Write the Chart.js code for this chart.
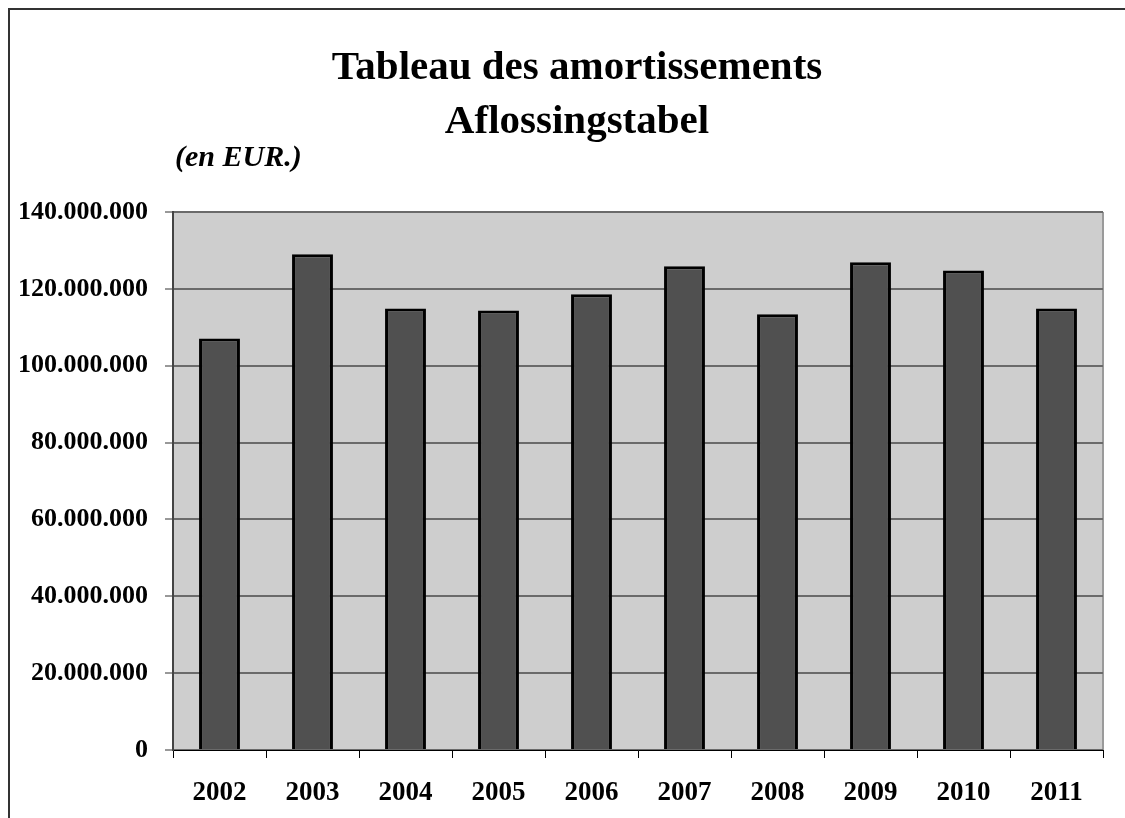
<!DOCTYPE html>
<html>
<head>
<meta charset="utf-8">
<script src="https://cdn.jsdelivr.net/npm/chart.js@4.4.1/dist/chart.umd.min.js"></script>
<style>
  html, body { margin: 0; padding: 0; background: #fff; }
  #wrap { width: 1125px; height: 818px; }
</style>
</head>
<body>
<div id="wrap"><canvas id="amortChart" width="1125" height="818"></canvas></div>
<script>
const years = ['2002', '2003', '2004', '2005', '2006', '2007', '2008', '2009', '2010', '2011'];
const amounts = [107100000, 129000000, 114900000, 114400000, 118600000, 125900000, 113400000, 126900000, 124800000, 114900000];
const yMax = 140000000;
const yStep = 20000000;
const titleLines = ['Tableau des amortissements', 'Aflossingstabel'];
const unitNote = '(en EUR.)';

const serif = "'Liberation Serif', 'Times New Roman', serif";

// frame, plot background, title and the unit note
const decor = {
    id: 'decor',
    beforeDraw(chart) {
        const { ctx, chartArea: a } = chart;
        ctx.save();
        ctx.fillStyle = '#fff';
        ctx.fillRect(0, 0, chart.width, chart.height);
        ctx.strokeStyle = '#333';
        ctx.lineWidth = 2;
        ctx.beginPath();
        ctx.moveTo(9, chart.height);
        ctx.lineTo(9, 9);
        ctx.lineTo(chart.width, 9);
        ctx.stroke();
        ctx.fillStyle = '#cecece';
        ctx.fillRect(a.left, a.top, a.right - a.left, a.bottom - a.top);
        ctx.strokeStyle = '#9a9a9a';
        ctx.lineWidth = 2;
        ctx.beginPath();
        ctx.moveTo(a.right, a.top);
        ctx.lineTo(a.right, a.bottom);
        ctx.stroke();
        ctx.restore();
    },
    afterDraw(chart) {
        const { ctx, chartArea: a } = chart;
        ctx.save();
        ctx.fillStyle = '#000';
        ctx.textBaseline = 'middle';
        ctx.textAlign = 'center';
        ctx.font = 'bold 41px ' + serif;
        titleLines.forEach((t, i) => ctx.fillText(t, 577, 68 + i * 54));
        ctx.textAlign = 'left';
        ctx.font = 'italic bold 30px ' + serif;
        ctx.fillText(unitNote, a.left + 2, a.top - 54);
        ctx.restore();
    }
};

new Chart(document.getElementById('amortChart').getContext('2d'), {
    type: 'bar',
    data: {
        labels: years,
        datasets: [{
            data: amounts,
            backgroundColor: '#505050',
            borderColor: '#000',
            borderWidth: 3,
            borderSkipped: 'bottom',
            barPercentage: 0.44,
            categoryPercentage: 1
        }]
    },
    options: {
        responsive: false,
        animation: false,
        layout: { padding: { left: 0, right: 22, top: 212, bottom: 0 } },
        plugins: {
            legend: { display: false },
            tooltip: { enabled: false },
            title: { display: false }
        },
        scales: {
            x: {
                offset: true,
                grid: { offset: true, drawOnChartArea: false, drawTicks: true, tickLength: 8, color: '#000' },
                border: { color: '#000', width: 1 },
                ticks: { color: '#000', padding: 19, font: { family: serif, size: 27, weight: 'bold' } },
                afterFit(scale) { scale.height = 68; }
            },
            y: {
                min: 0,
                max: yMax,
                ticks: {
                    stepSize: yStep,
                    color: '#000',
                    padding: 17,
                    font: { family: serif, size: 26, weight: 'bold' },
                    callback: v => String(v).replace(/\B(?=(\d{3})+(?!\d))/g, '.')
                },
                grid: { color: '#6a6a6a', lineWidth: 2, tickLength: 8, tickColor: '#333', tickWidth: 1 },
                border: { color: '#444', width: 2 },
                afterFit(scale) { scale.width = 173; }
            }
        }
    },
    plugins: [decor]
});
</script>
</body>
</html>
